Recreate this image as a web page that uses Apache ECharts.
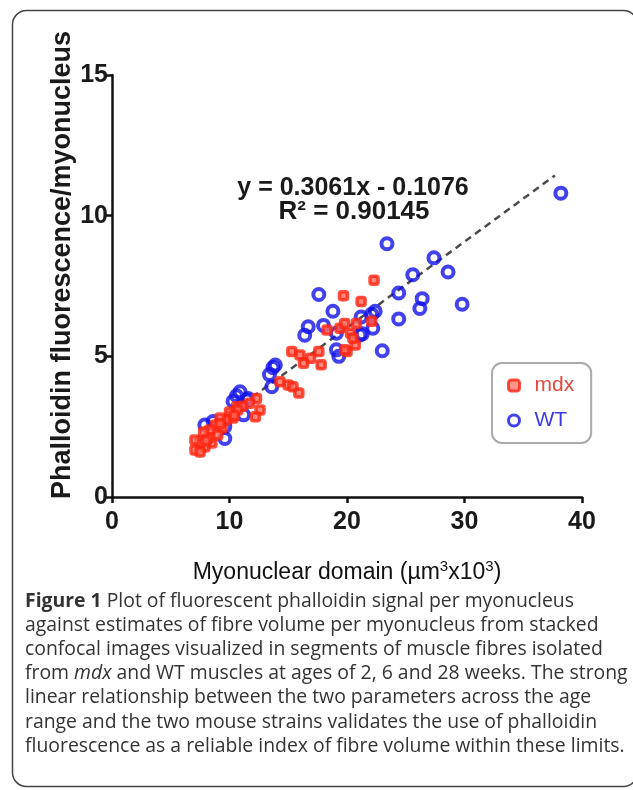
<!DOCTYPE html>
<html><head><meta charset="utf-8">
<script src="https://cdn.jsdelivr.net/npm/echarts@6/dist/echarts.min.js"></script>
<style>html,body{margin:0;padding:0;background:#fff}#c{width:633px;height:790px}</style>
</head><body><div id="c"></div>
<script>
// ---- data ----
const xTicks = [0, 10, 20, 30, 40];
const yTicks = [0, 5, 10, 15];
const wtPoints = [
  [38.2, 10.8], [23.4, 9.0], [27.4, 8.5], [28.6, 8.0], [25.6, 7.9], [24.4, 7.25],
  [26.4, 7.05], [26.2, 6.7], [29.8, 6.85], [24.4, 6.33], [22.4, 6.6], [22.1, 6.5],
  [21.2, 6.4], [22.2, 6.0], [21.3, 5.8], [21.1, 5.76], [23.0, 5.2], [17.6, 7.2],
  [18.8, 6.6], [16.7, 6.05], [16.4, 5.75], [18.0, 6.1], [19.1, 5.82], [19.1, 5.23],
  [19.3, 5.0], [13.9, 4.69], [13.7, 4.6], [13.4, 4.35], [13.6, 3.92], [10.9, 3.74],
  [10.6, 3.6], [11.5, 3.45], [11.6, 3.5], [11.2, 2.92], [9.6, 2.5], [8.6, 2.68],
  [9.6, 2.08], [7.9, 2.56], [10.3, 3.4]
];
const mdxPoints = [
  [22.3, 7.7], [21.2, 6.95], [19.7, 7.15], [22.1, 6.25], [20.8, 6.17], [20.3, 5.82],
  [18.3, 5.94], [19.4, 6.0], [19.8, 6.17], [20.7, 5.4], [20.0, 5.17], [20.5, 5.64],
  [19.8, 5.23], [15.3, 5.17], [16.0, 5.05], [16.9, 4.93], [17.8, 4.7], [17.6, 5.17],
  [16.3, 4.75], [14.3, 4.1], [15.0, 3.98], [15.4, 3.92], [15.9, 3.7], [12.3, 3.5],
  [11.7, 3.33], [12.6, 3.09], [12.2, 2.85], [10.0, 2.85], [10.6, 3.21], [11.1, 3.23],
  [10.7, 3.09], [10.3, 2.81], [10.0, 3.02], [9.7, 2.74], [9.2, 2.81], [9.4, 2.45],
  [8.8, 2.56], [9.0, 2.2], [8.3, 2.38], [8.5, 1.92], [8.2, 2.1], [7.9, 1.78],
  [7.8, 2.31], [7.5, 1.92], [7.06, 2.03], [7.06, 1.67], [7.5, 1.6], [8.0, 2.0],
  [9.2, 2.6], [10.4, 2.9]
];
const trendLine = [[7.0, 2.04], [37.7, 11.43]];
const equationText = 'y = 0.3061x - 0.1076';
const r2Text = 'R² = 0.90145';
const yAxisTitle = 'Phalloidin fluorescence/myonucleus';
const captionLines = [
  '{b|Figure 1} Plot of fluorescent phalloidin signal per myonucleus',
  'against estimates of fibre volume per myonucleus from stacked',
  'confocal images visualized in segments of muscle fibres isolated',
  'from {i|mdx} and WT muscles at ages of 2, 6 and 28 weeks. The strong',
  'linear relationship between the two parameters across the age',
  'range and the two mouse strains validates the use of phalloidin',
  'fluorescence as a reliable index of fibre volume within these limits.'
];

const RED = '#ff2410', BLUE = '#1212ea';
const SANS = '"Liberation Sans", Arial, sans-serif';
const CAP = '"Open Sans", sans-serif';
const CAPSIZE = 19.4;

const chart = echarts.init(document.getElementById('c'), null, {renderer: 'canvas'});
chart.setOption({
  backgroundColor: '#fff',
  animation: false,
  grid: {left: 112, right: 51, top: 75, bottom: 293},
  xAxis: {
    type: 'value', min: xTicks[0], max: xTicks[xTicks.length - 1], interval: 10,
    splitLine: {show: false},
    axisLine: {lineStyle: {color: '#111', width: 2.5}},
    axisTick: {show: true, length: 6, lineStyle: {color: '#111', width: 2.5}},
    axisLabel: {fontSize: 25, fontFamily: SANS, fontWeight: 'bold', color: '#1a1a1a', margin: 13},
    name: '{a|Myonuclear domain (µm}{s|3}{a|x10}{s|3}{a|)}',
    nameLocation: 'middle', nameGap: 62,
    nameTextStyle: {
      rich: {
        a: {fontSize: 23, fontFamily: SANS, color: '#111', lineHeight: 28},
        s: {fontSize: 15, fontFamily: SANS, color: '#111', verticalAlign: 'top', lineHeight: 28}
      }
    }
  },
  yAxis: {
    type: 'value', min: yTicks[0], max: yTicks[yTicks.length - 1], interval: 5,
    splitLine: {show: false},
    axisLine: {lineStyle: {color: '#111', width: 2.5}},
    axisTick: {show: true, length: 6, lineStyle: {color: '#111', width: 2.5}},
    axisLabel: {fontSize: 25, fontFamily: SANS, fontWeight: 'bold', color: '#1a1a1a', margin: 4}
  },
  legend: {
    orient: 'vertical', left: 492, top: 363,
    itemWidth: 11, itemHeight: 11, itemGap: 14,
    padding: [12, 17, 12, 15],
    borderColor: '#aaaaaa', borderWidth: 2, borderRadius: 10,
    selectedMode: false,
    textStyle: {fontSize: 21, fontFamily: SANS, padding: [0, 0, 0, 10]},
    data: [
      {name: 'mdx', textStyle: {color: '#e8453c'}, itemStyle: {color: '#ff7a6a', borderColor: RED, borderWidth: 3}},
      {name: 'WT', textStyle: {color: '#3a3ae0'}, itemStyle: {color: 'rgba(255,255,255,0)', borderColor: BLUE, borderWidth: 3}}
    ]
  },
  series: [
    {
      name: 'trend', type: 'line', data: trendLine, symbol: 'none', silent: true,
      lineStyle: {color: '#4a4a4a', width: 2.5, type: [7, 5]}, z: 1
    },
    {
      name: 'WT', type: 'scatter', data: wtPoints, symbol: 'circle', symbolSize: 11,
      itemStyle: {color: 'rgba(255,255,255,0)', borderColor: BLUE, borderWidth: 4},
      emphasis: {disabled: true}, z: 2
    },
    {
      name: 'mdx', type: 'scatter', data: mdxPoints, symbol: 'roundRect', symbolSize: 8,
      itemStyle: {color: '#ff6a5a', borderColor: RED, borderWidth: 3.5},
      emphasis: {disabled: true}, z: 3
    }
  ],
  graphic: [
    {type: 'rect', shape: {x: 12.5, y: 10.5, width: 625, height: 776, r: 14},
     style: {fill: 'none', stroke: '#444', lineWidth: 1.5}, z: -10, silent: true},
    {type: 'text', x: 63, y: 265, rotation: Math.PI / 2,
     style: {text: yAxisTitle, fontSize: 27, fontWeight: 'bold', fontFamily: SANS, fill: '#1a1a1a', align: 'center', verticalAlign: 'middle'}},
    {type: 'text', x: 353, y: 188,
     style: {text: equationText, fontSize: 25, fontWeight: 'bold', fontFamily: SANS, fill: '#1a1a1a', align: 'center', verticalAlign: 'middle'}},
    {type: 'text', x: 354, y: 212,
     style: {text: r2Text, fontSize: 26, fontWeight: 'bold', fontFamily: SANS, fill: '#1a1a1a', align: 'center', verticalAlign: 'middle'}},
    {type: 'text', x: 25, y: 589,
     style: {
       text: captionLines.join('\n'), fontSize: CAPSIZE, fontFamily: CAP, fill: '#333',
       lineHeight: 24.2, align: 'left', verticalAlign: 'top',
       rich: {
         b: {fontSize: CAPSIZE, fontWeight: 'bold', fontFamily: CAP, fill: '#333', lineHeight: 24.2},
         i: {fontSize: CAPSIZE, fontStyle: 'italic', fontFamily: CAP, fill: '#333', lineHeight: 24.2}
       }
     }}
  ]
});
</script>
</body></html>
